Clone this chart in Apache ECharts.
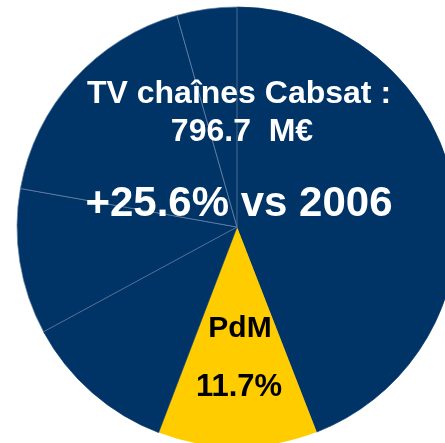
<!DOCTYPE html>
<html>
<head>
<meta charset="utf-8">
<script src="https://cdn.jsdelivr.net/npm/echarts@6/dist/echarts.min.js"></script>
<style>
  html, body { margin: 0; padding: 0; background: #fff; }
  #chart { width: 445px; height: 443px; }
</style>
</head>
<body>
<div id="chart"></div>
<script>
// parts du marché (clockwise from 12 o'clock)
var names = ['Autres', 'PdM', 'Chaîne D', 'Chaîne C', 'Chaîne B', 'Chaîne A'];
var values = [44.1, 11.7, 11.3, 10.7, 17.8, 4.4];
var titleLines = ['TV chaînes Cabsat :', '796.7  M€'];
var growthText = '+25.6% vs 2006';

var navy = '#003366';
var yellow = '#FFCC00';
var font = '"Liberation Sans", Arial, sans-serif';

var chartDom = document.getElementById('chart');
var myChart = echarts.init(chartDom);

var pieData = names.map(function (n, i) {
  var isPdm = n === 'PdM';
  // border lines between slices: light blue, except the ones touching the yellow slice
  var lightBorder = (i >= 3);
  return {
    name: n,
    value: values[i],
    itemStyle: {
      color: isPdm ? yellow : navy,
      borderColor: lightBorder ? '#6a82a6' : navy,
      borderWidth: isPdm ? 0 : 0.7
    }
  };
});

var pdmValue = values[names.indexOf('PdM')];

function txt(str, x, y, size, color) {
  return {
    type: 'text', x: x, y: y, z: 100,
    style: {
      text: str, fill: color,
      fontFamily: font, fontWeight: 'bold', fontSize: size,
      align: 'center', verticalAlign: 'middle'
    }
  };
}

var option = {
  animation: false,
  series: [{
    type: 'pie',
    center: [237, 227],
    radius: 220,
    startAngle: 90,
    clockwise: true,
    label: { show: false },
    labelLine: { show: false },
    emphasis: { disabled: true },
    data: pieData
  }],
  graphic: [
    txt(titleLines[0], 239, 94, 32, '#fff'),
    txt(titleLines[1], 242, 132, 32, '#fff'),
    txt(growthText, 239, 204, 42, '#fff'),
    txt('PdM', 240, 329, 30, '#000'),
    txt(pdmValue.toFixed(1) + '%', 239, 387, 31, '#000')
  ]
};

myChart.setOption(option);
</script>
</body>
</html>
